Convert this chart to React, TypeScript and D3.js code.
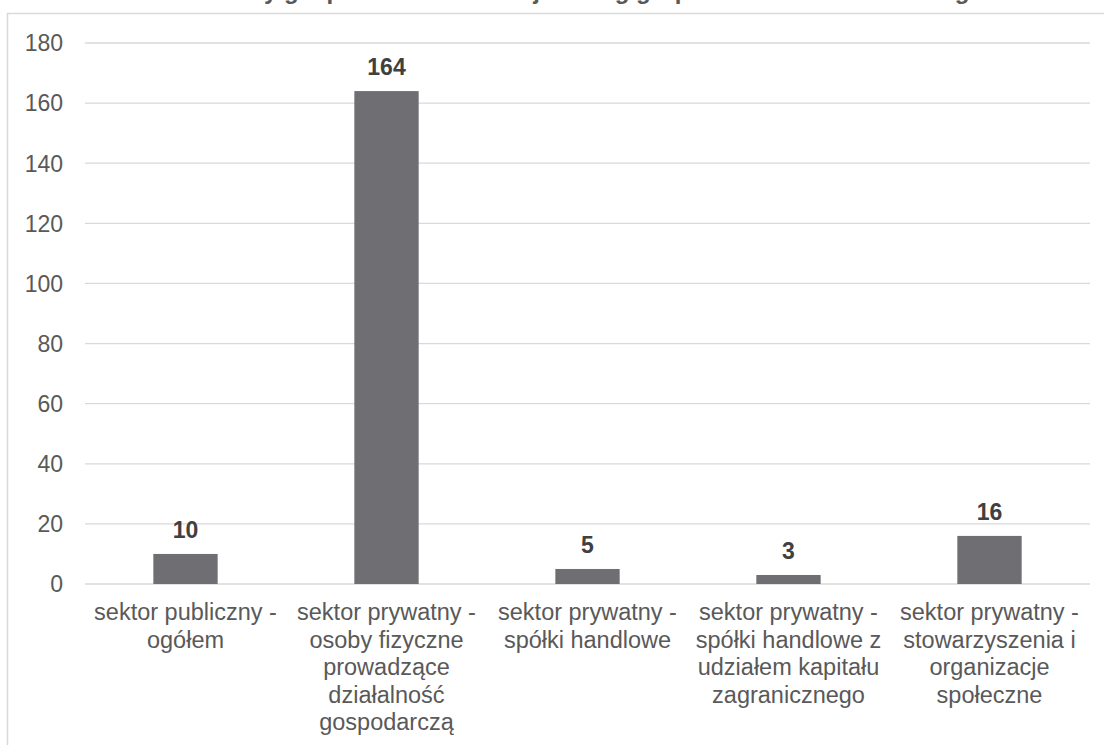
import React from "react";
import * as d3 from "d3";

const categories: string[][] = [
  ["sektor publiczny -", "ogółem"],
  ["sektor prywatny -", "osoby fizyczne", "prowadzące", "działalność", "gospodarczą"],
  ["sektor prywatny -", "spółki handlowe"],
  ["sektor prywatny -", "spółki handlowe z", "udziałem kapitału", "zagranicznego"],
  ["sektor prywatny -", "stowarzyszenia i", "organizacje", "społeczne"],
];
const values: number[] = [10, 164, 5, 3, 16];
const yTicks: number[] = [0, 20, 40, 60, 80, 100, 120, 140, 160, 180];
const title = "Podmioty gospodarki narodowej według grup sektorów własności w gminie";

const W = 1104;
const H = 745;
const left = 85;
const right = 1090;
const top = 43;
const bottom = 584;
const font = "'Liberation Sans', Arial, sans-serif";

export default function App() {
  const x = d3
    .scaleBand<number>()
    .domain(values.map((_, i) => i))
    .range([left, right])
    .paddingInner(0.68)
    .paddingOuter(0.34);
  const y = d3.scaleLinear().domain([0, 180]).range([bottom, top]);

  return (
    <svg
      width={W}
      height={H}
      style={{ position: "absolute", left: 0, top: 0, background: "#fff" }}
      fontFamily={font}
    >
      <rect x={0} y={0} width={W} height={H} fill="#fff" />
      <text
        x={600}
        y={-1}
        textAnchor="middle"
        fontSize={24}
        fontWeight="bold"
        fill="#595959"
      >
        {title}
      </text>
      <rect
        x={7.5}
        y={13.5}
        width={W + 10}
        height={H + 10}
        fill="none"
        stroke="#d9d9d9"
        strokeWidth={1.5}
      />
      {yTicks.map((t) => (
        <g key={t}>
          <line
            x1={left}
            x2={right}
            y1={y(t)}
            y2={y(t)}
            stroke="#d9d9d9"
            strokeWidth={1.3}
          />
          <text
            x={63}
            y={y(t)}
            dy="0.36em"
            textAnchor="end"
            fontSize={23}
            fill="#595959"
          >
            {t}
          </text>
        </g>
      ))}
      {values.map((v, i) => {
        const cx = (x(i) as number) + x.bandwidth() / 2;
        const bw = x.bandwidth();
        return (
          <g key={i}>
            <rect
              x={cx - bw / 2}
              y={y(v)}
              width={bw}
              height={y(0) - y(v)}
              fill="#6e6e73"
            />
            <text
              x={cx}
              y={y(v) - 16}
              textAnchor="middle"
              fontSize={23}
              fontWeight="bold"
              fill="#404040"
            >
              {v}
            </text>
            {categories[i].map((line, j) => (
              <text
                key={j}
                x={cx}
                y={620 + j * 27.5}
                textAnchor="middle"
                fontSize={23.5}
                fill="#595959"
              >
                {line}
              </text>
            ))}
          </g>
        );
      })}
    </svg>
  );
}
